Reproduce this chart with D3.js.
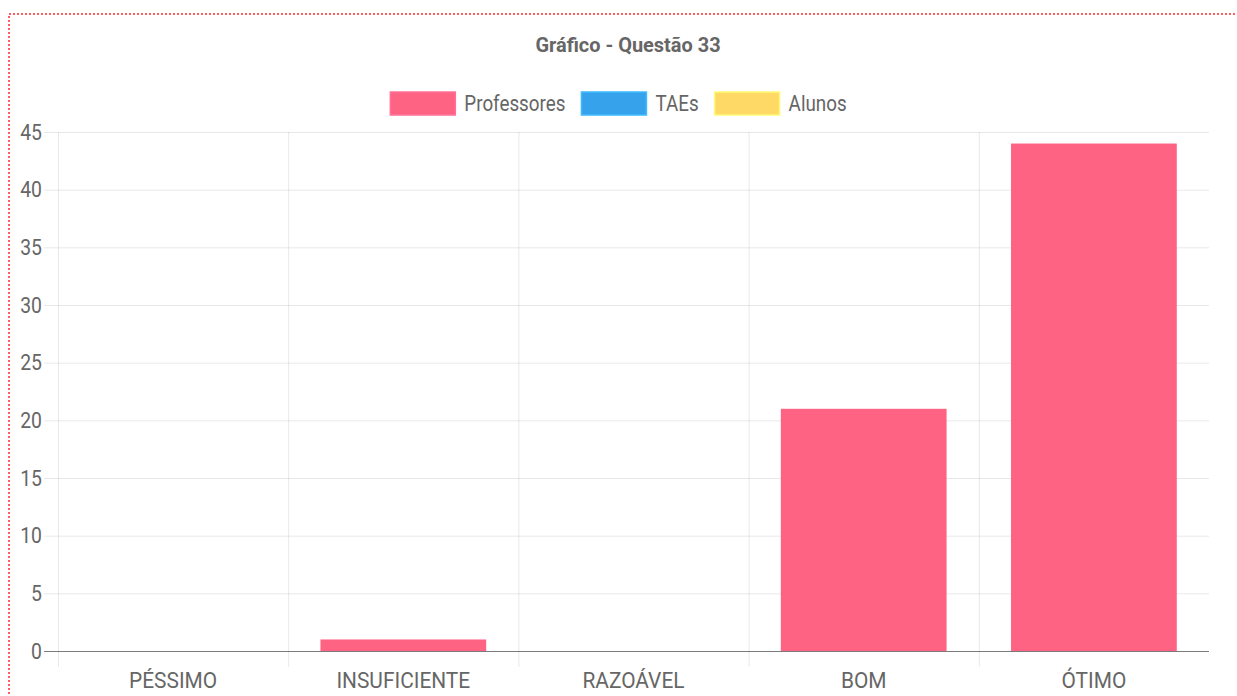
<!DOCTYPE html>
<html><head><meta charset="utf-8">
<script src="https://cdn.jsdelivr.net/npm/d3@7"></script>
<style>
html,body{margin:0;padding:0;background:#fff;overflow:hidden;}
svg{display:block;}
text{font-family:Roboto,"Liberation Sans",Arial,sans-serif;fill:#666;}
</style></head>
<body>
<svg id="c" width="1237" height="696"></svg>
<script>
const title = "Gráfico - Questão 33";
const categories = ["PÉSSIMO","INSUFICIENTE","RAZOÁVEL","BOM","ÓTIMO"];
const seriesNames = ["Professores","TAEs","Alunos"];
const seriesColors = ["#ff6384","#36a2eb","#ffd966"];
const professores = [0,1,0,21,44];
const taes = [null,null,null,null,null];
const alunos = [null,null,null,null,null];
const yTicks = [0,5,10,15,20,25,30,35,40,45];

(function(){
const svg = d3.select("#c");

// dotted frame
svg.append("rect").attr("x",9).attr("y",14).attr("width",1300).attr("height",800)
  .attr("fill","none").attr("stroke","#ff2a2a").attr("stroke-width",1.5).attr("stroke-dasharray","2,2");

const pL=58,pR=1209,pT=132,pB=651;
const x = d3.scaleBand().domain(categories).range([pL,pR]).paddingInner(0).paddingOuter(0);
const y = d3.scaleLinear().domain([0,45]).range([pB,pT]);

function stext(sel,xx,yy,anchor,sx){
  return sel.attr("transform",`translate(${xx},${yy}) scale(${sx},1)`).attr("text-anchor",anchor);
}

// horizontal gridlines
const g = svg.append("g");
yTicks.forEach(t=>{
  g.append("line").attr("x1",44).attr("x2",pR).attr("y1",y(t)+0.5).attr("y2",y(t)+0.5)
    .attr("stroke", t===0 ? "rgba(0,0,0,0.3)" : "rgba(0,0,0,0.09)").attr("stroke-width",1);
  stext(g.append("text").text(t).attr("font-size",22).attr("dy","0.35em"),42,y(t),"end",0.88);
});
// vertical gridlines
categories.forEach(c=>{
  g.append("line").attr("x1",x(c)+0.5).attr("x2",x(c)+0.5).attr("y1",pT).attr("y2",667)
    .attr("stroke","rgba(0,0,0,0.09)").attr("stroke-width",1);
});

// bars
const bw = x.bandwidth()*0.72;
const data = [professores,taes,alunos];
data.forEach((vals,si)=>{
  svg.append("g").selectAll("rect").data(categories.map((c,i)=>({c,v:vals[i]})).filter(d=>d.v!=null && d.v>0))
    .join("rect")
    .attr("x",d=>x(d.c)+(x.bandwidth()-bw)/2)
    .attr("width",bw)
    .attr("y",d=>y(d.v))
    .attr("height",d=>y(0)-y(d.v))
    .attr("fill",seriesColors[si]);
});
// zero line over bars
svg.append("line").attr("x1",44).attr("x2",pR).attr("y1",y(0)+0.5).attr("y2",y(0)+0.5)
  .attr("stroke","rgba(0,0,0,0.3)");

// x labels
categories.forEach(c=>{
  stext(svg.append("text").text(c).attr("font-size",22),x(c)+x.bandwidth()/2,688,"middle",0.95);
});

// title
stext(svg.append("text").text(title).attr("font-size",21).attr("font-weight","bold"),628,52,"middle",0.95);

// legend
const LSX = 0.855;
const lg = svg.append("g");
const items = seriesNames.map((n,i)=>{
  const t = lg.append("text").text(n).attr("font-size",22);
  const w = t.node().getComputedTextLength()*LSX;
  return {n,i,t,w};
});
const boxW=65, boxH=23, gap1=9, gap2=16;
const total = d3.sum(items,d=>boxW+gap1+d.w) + gap2*(items.length-1);
let cx = 618.5 - total/2;
items.forEach(d=>{
  lg.append("rect").attr("x",cx).attr("y",92).attr("width",boxW).attr("height",boxH)
    .attr("fill",seriesColors[d.i]).attr("stroke",d3.color(seriesColors[d.i]).brighter(0.4)).attr("stroke-width",1.5);
  stext(d.t,cx+boxW+gap1,111,"start",LSX);
  cx += boxW+gap1+d.w+gap2;
});
})();
</script>
</body></html>
